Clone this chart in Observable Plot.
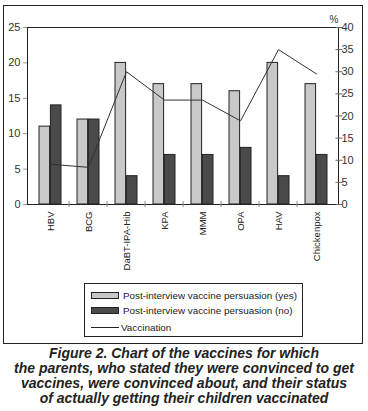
<!DOCTYPE html>
<html>
<head>
<meta charset="utf-8">
<script src="https://cdn.jsdelivr.net/npm/d3@7"></script>
<script src="https://cdn.jsdelivr.net/npm/@observablehq/plot@0.6"></script>
<style>
  html, body { margin: 0; padding: 0; background: #fff; }
  #wrap { position: relative; width: 368px; height: 411px; font-family: "Liberation Sans", Arial, sans-serif; }
  #border { position: absolute; left: 3px; top: 5px; width: 360px; height: 339px; box-sizing: border-box; border: 1px solid #222; }
  #chart { position: absolute; left: 0; top: 0; }
  #legend { position: absolute; left: 84px; top: 283px; width: 219px; height: 54px; box-sizing: border-box; border: 1px solid #222; font-size: 9.9px; color: #222; }
  .row { position: absolute; left: 6px; height: 14px; display: flex; align-items: center; white-space: nowrap; }
  .sw { width: 26px; height: 5px; border: 1px solid #222; margin-right: 4px; flex: none; }
  .ln { width: 28px; height: 0; border-top: 1px solid #222; margin-right: 2px; flex: none; }
  #caption { position: absolute; left: 0; top: 346px; width: 368px; text-align: center; font-weight: bold; font-style: italic; font-size: 14px; line-height: 15px; color: #222; white-space: nowrap; }
</style>
</head>
<body>
<div id="wrap">
  <div id="border"></div>
  <div id="chart"></div>
  <div id="legend"></div>
  <div id="caption"></div>
</div>
<script>
const categories = ["HBV", "BCG", "DaBT-IPA-Hib", "KPA", "MMM", "OPA", "HAV", "Chickenpox"];
const persuasionYes = [11, 12, 20, 17, 17, 16, 20, 17];
const persuasionNo = [14, 12, 4, 7, 7, 8, 4, 7];
const vaccinationPct = [9.1, 8.4, 30, 23.6, 23.6, 18.9, 35, 29.5];
const leftTicks = [0, 5, 10, 15, 20, 25];
const rightTicks = [0, 5, 10, 15, 20, 25, 30, 35, 40];
const seriesNames = ["Post-interview vaccine persuasion (yes)", "Post-interview vaccine persuasion (no)", "Vaccination"];
const captionLines = [
  "Figure 2. Chart of the vaccines for which",
  "the parents, who stated they were convinced to get",
  "vaccines, were convinced about, and their status",
  "of actually getting their children vaccinated"
];

const leftMax = 25, rightMax = 40;
const toLeft = p => p * leftMax / rightMax;

const yesData = categories.map((c, i) => ({cat: c, v: persuasionYes[i]}));
const noData = categories.map((c, i) => ({cat: c, v: persuasionNo[i]}));
const lineData = categories.map((c, i) => ({cat: c, p: vaccinationPct[i]}));

const font = "Liberation Sans, Arial, sans-serif";
const W = 368, ML = 27, MR = 30;
const halfBand = (W - ML - MR) / categories.length / 2;

const chart = Plot.plot({
  width: W,
  height: 270,
  marginLeft: ML,
  marginRight: MR,
  marginTop: 27,
  marginBottom: 66,
  style: {fontFamily: font, fontSize: "11px", color: "#333", background: "transparent", overflow: "visible"},
  x: {domain: categories, padding: 0, label: null},
  y: {domain: [0, leftMax], label: null},
  marks: [
    Plot.barY(yesData, {x: "cat", y: "v", fill: "#c8c8c8", stroke: "#222", strokeWidth: 1, insetLeft: 8, insetRight: 19.4}),
    Plot.barY(noData, {x: "cat", y: "v", fill: "#4a4a4a", stroke: "#222", strokeWidth: 1, insetLeft: 19.4, insetRight: 8}),
    Plot.frame({stroke: "#222"}),
    Plot.line(lineData, {x: "cat", y: d => toLeft(d.p), stroke: "#333", strokeWidth: 1}),
    Plot.axisY(leftTicks, {anchor: "left", tickSize: 4, tickPadding: 3, stroke: "#999", fill: "#333", fontSize: 11, label: null}),
    Plot.axisY(rightTicks.map(toLeft), {anchor: "right", tickSize: 7, dx: -3.5, stroke: "#666", fill: "none", label: null}),
    Plot.axisY(rightTicks.map(toLeft), {anchor: "right", tickSize: 0, tickPadding: 3, fill: "#333", fontSize: 11, label: null,
      tickFormat: d => String(Math.round(d * rightMax / leftMax))}),
    Plot.axisX(categories.slice(1), {anchor: "bottom", tickSize: 6, dy: -3, dx: -halfBand, stroke: "#888", fill: "none", label: null}),
    Plot.axisX(categories, {anchor: "bottom", tickSize: 0, tickPadding: 7, tickRotate: -90, fill: "#222", fontSize: 9.5, label: null}),
    Plot.text(["%"], {frameAnchor: "top-right", textAnchor: "end", dy: -12, fill: "#333", fontSize: 10})
  ]
});
document.getElementById("chart").appendChild(chart);

const legend = document.getElementById("legend");
const swatchStyles = [
  {cls: "sw", bg: "#c8c8c8"},
  {cls: "sw", bg: "#4a4a4a"},
  {cls: "ln", bg: null}
];
const rowTops = [4, 19, 36];
seriesNames.forEach((name, i) => {
  const row = document.createElement("div");
  row.className = "row";
  row.style.top = rowTops[i] + "px";
  const sw = document.createElement("div");
  sw.className = swatchStyles[i].cls;
  if (swatchStyles[i].bg) sw.style.background = swatchStyles[i].bg;
  const t = document.createElement("span");
  t.textContent = name;
  row.appendChild(sw);
  row.appendChild(t);
  legend.appendChild(row);
});

document.getElementById("caption").innerHTML = captionLines.map(l => `<div>${l}</div>`).join("");
</script>
</body>
</html>
